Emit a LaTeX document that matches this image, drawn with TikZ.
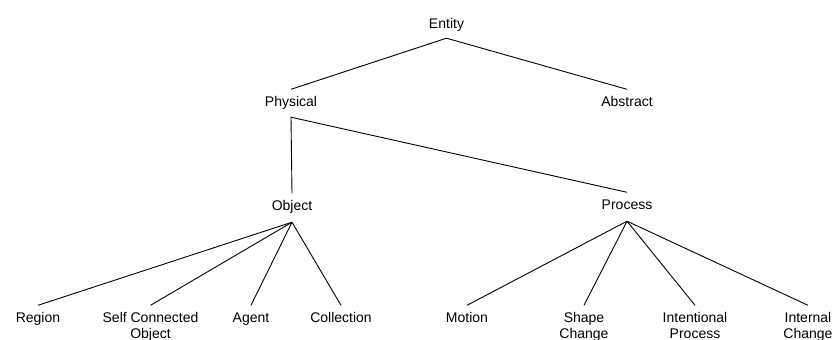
\documentclass[tikz,border=0pt]{standalone}
\usepackage{fontspec}
\setmainfont{Liberation Sans}
\begin{document}
\begin{tikzpicture}[x=1pt,y=-1pt,
  lbl/.style={inner sep=0pt, anchor=base, font=\fontsize{14}{16}\selectfont, text height=16.5pt},
  edge/.style={draw=black, line width=0.9pt}]
\useasboundingbox[fill=white] (0,0) rectangle (833,340);
\node[lbl, text depth=10pt] (entity) at (446.5,28) {Entity};
\node[lbl, text depth=11pt] (physical) at (291,106) {Physical};
\node[lbl] (abstract) at (627,106) {Abstract};
\node[lbl, text depth=12pt] (object) at (292,210) {Object};
\node[lbl, text depth=12pt] (process) at (627,209) {Process};
\node[lbl] (region) at (38,322) {Region};
\node[lbl] (sco) at (150.5,322) {\begin{tabular}[t]{@{}c@{}}Self Connected\\Object\end{tabular}};
\node[lbl] (agent) at (251,322) {Agent};
\node[lbl] (collection) at (341,322) {Collection};
\node[lbl] (motion) at (467,322) {Motion};
\node[lbl] (shape) at (584,322) {\begin{tabular}[t]{@{}c@{}}Shape\\Change\end{tabular}};
\node[lbl] (intentional) at (695,322) {\begin{tabular}[t]{@{}c@{}}Intentional\\Process\end{tabular}};
\node[lbl] (internal) at (808,322) {\begin{tabular}[t]{@{}c@{}}Internal\\Change\end{tabular}};
\path[edge] (physical.north) -- (entity.south) -- (abstract.north);
\path[edge] (object.north) -- (physical.south) -- (process.north);
\foreach \c in {region,sco,agent,collection} \path[edge] (object.south) -- (\c.north);
\foreach \c in {motion,shape,intentional,internal} \path[edge] (process.south) -- (\c.north);
\end{tikzpicture}
\end{document}
